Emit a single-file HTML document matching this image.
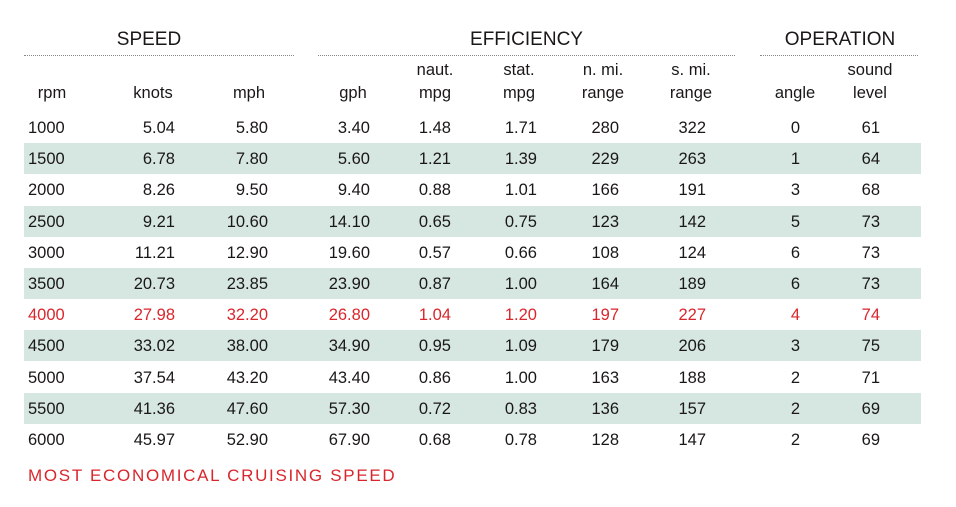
<!DOCTYPE html>
<html><head><meta charset="utf-8"><style>
body{margin:0;width:956px;height:507px;background:#fff;position:relative;overflow:hidden;font-family:"Liberation Sans",sans-serif;color:#1a1718}
.t{position:absolute;white-space:nowrap;font-size:16.5px;line-height:20px}
.g{position:absolute;text-align:center;font-size:19px;line-height:22px}
.dl{position:absolute;top:55px;height:0;border-top:1px dotted #888}
.st{position:absolute;left:24px;width:897px;height:31px;background:#d6e6e0}
</style></head><body>
<div class="g" style="left:24px;width:250px;top:29px">SPEED</div>
<div class="g" style="left:318px;width:417px;top:29px">EFFICIENCY</div>
<div class="g" style="left:760px;width:160px;top:29px">OPERATION</div>
<div class="dl" style="left:24px;width:270px"></div>
<div class="dl" style="left:318px;width:417px"></div>
<div class="dl" style="left:760px;width:158px"></div>
<div id="tbl"></div>
<div class="t" style="left:28px;top:466px;color:#d9262c;font-size:17px;letter-spacing:1.7px">MOST ECONOMICAL CRUISING SPEED</div>
<script>
const headers1=["","","","","naut.","stat.","n. mi.","s. mi.","","sound"];
const headers2=["rpm","knots","mph","gph","mpg","mpg","range","range","angle","level"];
const rpm=["1000","1500","2000","2500","3000","3500","4000","4500","5000","5500","6000"];
const knots=["5.04","6.78","8.26","9.21","11.21","20.73","27.98","33.02","37.54","41.36","45.97"];
const mph=["5.80","7.80","9.50","10.60","12.90","23.85","32.20","38.00","43.20","47.60","52.90"];
const gph=["3.40","5.60","9.40","14.10","19.60","23.90","26.80","34.90","43.40","57.30","67.90"];
const nmpg=["1.48","1.21","0.88","0.65","0.57","0.87","1.04","0.95","0.86","0.72","0.68"];
const smpg=["1.71","1.39","1.01","0.75","0.66","1.00","1.20","1.09","1.00","0.83","0.78"];
const nrange=["280","229","166","123","108","164","197","179","163","136","128"];
const srange=["322","263","191","142","124","189","227","206","188","157","147"];
const angle=["0","1","3","5","6","6","4","3","2","2","2"];
const sound=["61","64","68","73","73","73","74","75","71","69","69"];
const highlightRow=6;
const cols=[rpm,knots,mph,gph,nmpg,smpg,nrange,srange,angle,sound];
const colNames=["rpm","knots","mph","gph","naut-mpg","stat-mpg","n-mi-range","s-mi-range","angle","sound-level"];
const headCenter=[52,153,249,353,435,519,603,691,795,870];
const colRight=[null,175,268,370,451,537,619,706,800,880];
const tbl=document.getElementById('tbl');
function add(cls,txt,style){const d=document.createElement('div');d.className=cls;d.textContent=txt;d.setAttribute('style',style);tbl.appendChild(d);return d;}
for(let r=0;r<rpm.length;r++){
  if(r%2===1){const s=document.createElement('div');s.className='st';s.style.top=(112+r*31.2)+'px';
    
    
    tbl.appendChild(s);}
}
for(let c=0;c<cols.length;c++){
  const h1=add('t',headers1[c],'left:'+(headCenter[c]-50)+'px;width:100px;text-align:center;top:60px');
  
  
  const h2=add('t',headers2[c],'left:'+(headCenter[c]-50)+'px;width:100px;text-align:center;top:83px');
  
  
  for(let r=0;r<rpm.length;r++){
    const top=118+r*31.2;
    const color=r===highlightRow?'color:#d9262c;':'';
    let st;
    if(colRight[c]===null) st='left:28px;top:'+top+'px;'+color;
    else st='left:'+(colRight[c]-100)+'px;width:100px;text-align:right;top:'+top+'px;'+color;
    const d=add('t',cols[c][r],st);
    
    
  }
}
</script>
</body></html>
